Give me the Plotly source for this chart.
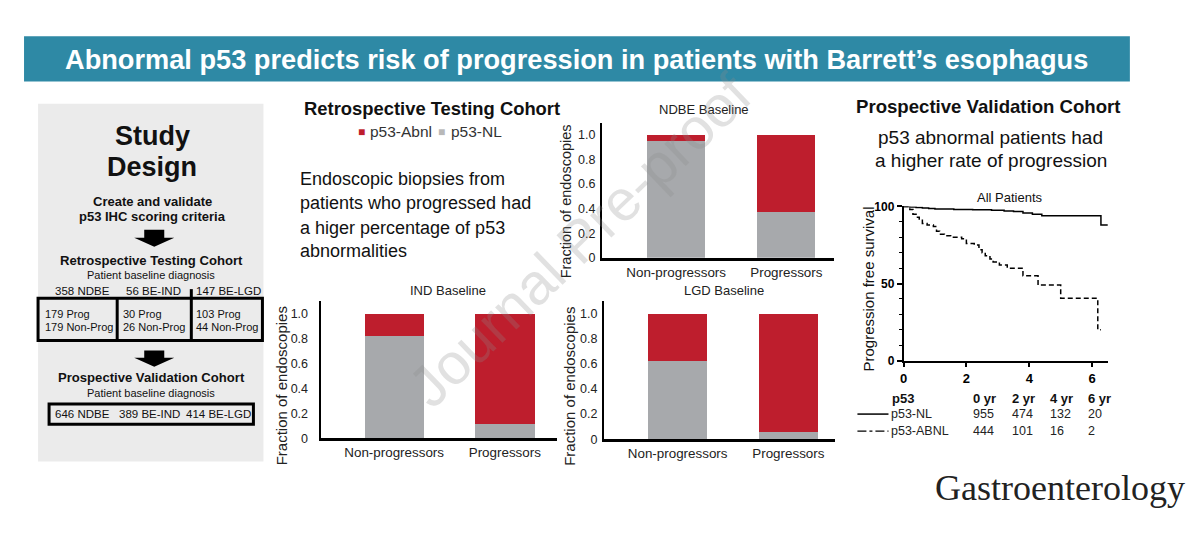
import plotly.graph_objects as go

W, H = 1200, 551
ARIAL = "Arial, Liberation Sans, sans-serif"
RED = "#be1e2d"
GRAY = "#a7a9ac"
TEAL = "#2e89a5"
# the page capture comes out slightly shrunk around its centre; undo that
SX, SY = 0.995, 0.967

# stacked bar data (fraction of endoscopies)
categories = ["Non-progressors", "Progressors"]
ndbe_nl = [0.957, 0.377]
ndbe_abnl = [0.043, 0.623]
ind_nl = [0.823, 0.115]
ind_abnl = [0.177, 0.885]
lgd_nl = [0.62, 0.06]
lgd_abnl = [0.38, 0.94]
frac_ticks = [0, 0.2, 0.4, 0.6, 0.8, 1.0]
frac_labels = ["0", "0.2", "0.4", "0.6", "0.8", "1.0"]

# Kaplan-Meier curves
nl_years = [0, 0.2, 0.4, 0.6, 0.8, 1.0, 1.6, 2.2, 2.8, 3.2, 3.5, 3.8, 4.1, 4.4, 6.28, 6.5]
nl_surv = [100, 99.7, 99.4, 99.0, 98.6, 98.3, 98.1, 97.8, 97.5, 97.1, 96.7, 95.8, 95.0, 94.0, 88.0, 88.0]
abnl_years = [0, 0.2, 0.3, 0.4, 0.5, 0.6, 0.75, 0.95, 1.05, 1.15, 1.3, 1.5, 1.85, 2.0, 2.25,
              2.4, 2.5, 2.6, 2.75, 2.85, 3.05, 3.3, 3.8, 4.28, 5.0, 6.18, 6.28]
abnl_surv = [100, 98, 95, 93, 91, 89, 88, 87, 84, 82, 81, 80, 79, 76, 75,
             72, 70, 68, 66, 64, 62, 60, 55, 49, 40.5, 20, 20]
km_xticks = [0, 2, 4, 6]
km_yticks = [0, 50, 100]
risk_headers = ["0 yr", "2 yr", "4 yr", "6 yr"]
risk_nl = [955, 474, 132, 20]
risk_abnl = [444, 101, 16, 2]

# study design counts
retro_groups = ["358 NDBE", "56 BE-IND", "147 BE-LGD"]
retro_prog = ["179 Prog", "30 Prog", "103 Prog"]
retro_nonprog = ["179 Non-Prog", "26 Non-Prog", "44 Non-Prog"]
prosp_groups = ["646 NDBE", "389 BE-IND", "414 BE-LGD"]


def px(x):
    return (600 + (x - 600) / SX) / W


def py(y):
    return 1 - (275.5 + (y - 275.5) / SY) / H


fig = go.Figure()


def text(x, y, s, size, color="#111", xanchor="center", family=ARIAL, angle=0):
    fig.add_annotation(
        x=px(x), y=py(y), xref="paper", yref="paper", text=s, showarrow=False,
        font=dict(size=size, color=color, family=family),
        xanchor=xanchor, yanchor="middle", textangle=angle,
    )


def rect(x0, y0, x1, y1, fill=None, line_w=0, layer="below"):
    fig.add_shape(
        type="rect", xref="paper", yref="paper",
        x0=px(x0), x1=px(x1), y0=py(y0), y1=py(y1),
        fillcolor=fill or "rgba(0,0,0,0)",
        line=dict(color="black", width=line_w), layer=layer,
    )


def seg(x0, y0, x1, y1, width=2, dash="solid"):
    fig.add_shape(
        type="line", xref="paper", yref="paper",
        x0=px(x0), x1=px(x1), y0=py(y0), y1=py(y1),
        line=dict(color="black", width=width, dash=dash),
    )


def down_arrow(cx, top, mid, tip):
    pts = [(cx - 10, top), (cx + 10, top), (cx + 10, mid), (cx + 20, mid),
           (cx, tip), (cx - 20, mid), (cx - 10, mid)]
    path = "M " + " L ".join(f"{px(a):.5f},{py(b):.5f}" for a, b in pts) + " Z"
    fig.add_shape(type="path", xref="paper", yref="paper", path=path,
                  fillcolor="black", line=dict(width=0))


# ---- stacked bars ----
panels = [
    ("x", "y", ndbe_nl, ndbe_abnl, 0.527),
    ("x2", "y2", ind_nl, ind_abnl, 0.54),
    ("x3", "y3", lgd_nl, lgd_abnl, 0.534),
]
for xa, ya, nl, abnl, w in panels:
    fig.add_trace(go.Bar(x=categories, y=nl, xaxis=xa, yaxis=ya, width=w,
                         marker=dict(color=GRAY, line=dict(width=0)),
                         name="p53-NL", showlegend=False))
    fig.add_trace(go.Bar(x=categories, y=abnl, xaxis=xa, yaxis=ya, width=w,
                         marker=dict(color=RED, line=dict(width=0)),
                         name="p53-Abnl", showlegend=False))

# ---- Kaplan-Meier ----
fig.add_trace(go.Scatter(x=nl_years, y=nl_surv, xaxis="x4", yaxis="y4", mode="lines",
                         line=dict(color="black", width=1.5, shape="hv"),
                         cliponaxis=False, showlegend=False))
fig.add_trace(go.Scatter(x=abnl_years, y=abnl_surv, xaxis="x4", yaxis="y4", mode="lines",
                         line=dict(color="black", width=1.5, shape="hv", dash="5px,3px"),
                         cliponaxis=False, showlegend=False))


def bar_x(xdom, xr, anchor):
    return dict(domain=[px(xdom[0]), px(xdom[1])], range=xr, anchor=anchor, showline=True,
                linecolor="black", linewidth=3, ticks="", showgrid=False,
                zeroline=False, tickfont=dict(size=13.4, color="#222", family=ARIAL))


def bar_y(ydom, anchor, standoff):
    return dict(domain=[py(ydom[0]), py(ydom[1])], range=[0, 1.1], anchor=anchor,
                showline=True, linecolor="black", linewidth=2, ticks="", showgrid=False,
                zeroline=False, tickvals=frac_ticks, ticktext=frac_labels,
                ticklabelstandoff=standoff,
                tickfont=dict(size=12.5, color="#222", family=ARIAL))


fig.update_layout(
    width=W, height=H,
    margin=dict(l=0, r=0, t=0, b=0),
    paper_bgcolor="white", plot_bgcolor="rgba(0,0,0,0)",
    barmode="stack", bargap=0,
    xaxis=bar_x((600, 832), [-0.673, 1.436], "y"),
    yaxis=bar_y((258, 123.8), "x", 2),
    xaxis2=bar_x((319, 555), [-0.665, 1.471], "y2"),
    yaxis2=bar_y((437, 300.6), "x2", 8),
    xaxis3=bar_x((602, 833), [-0.665, 1.425], "y3"),
    yaxis3=bar_y((438, 300.5), "x3", 2),
    xaxis4=dict(domain=[px(901), px(1105)], range=[0, 6.5], anchor="y4", showline=True,
                linecolor="black", linewidth=1.5, ticks="outside", ticklen=5,
                tickwidth=1.5, tickcolor="black", showgrid=False, zeroline=False,
                tickvals=km_xticks, ticktext=[f"<b>{t}</b>" for t in km_xticks],
                tickfont=dict(size=13, color="black", family=ARIAL)),
    yaxis4=dict(domain=[py(360), py(207)], range=[0, 100], anchor="x4", showline=True,
                linecolor="black", linewidth=1.5, ticks="outside", ticklen=5,
                tickwidth=1.5, tickcolor="black", showgrid=False, zeroline=False,
                tickvals=km_yticks, ticktext=[f"<b>{t}</b>" for t in km_yticks],
                tickfont=dict(size=12, color="black", family=ARIAL),
                minor=dict(dtick=10, ticks="outside", ticklen=3, tickcolor="black",
                           tickwidth=1, showgrid=False)),
)

# axis titles
text(564, 202, "Fraction of endoscopies", 14.5, color="#222", angle=-90)
text(280, 385, "Fraction of endoscopies", 15, color="#222", angle=-90)
text(568, 385, "Fraction of endoscopies", 15, color="#222", angle=-90)
text(866, 289, "Progression free survival", 15, angle=-90)

# ---- banner ----
rect(23, 38, 1127, 83, fill=TEAL)
text(575, 61, "<b>Abnormal p53 predicts risk of progression in patients with Barrett\u2019s esophagus</b>",
     27.2, color="white")

# ---- study design panel ----
rect(37, 105, 262, 460, fill="#ebebeb")
text(151, 137, "<b>Study</b>", 27)
text(151, 168, "<b>Design</b>", 27)
text(151, 202, "<b>Create and validate</b>", 13)
text(151, 217, "<b>p53 IHC scoring criteria</b>", 13)
down_arrow(153, 230, 238, 247)
text(150, 261, "<b>Retrospective Testing Cohort</b>", 13.1)
text(150, 275, "Patient baseline diagnosis", 11)
for cx, s in zip([81, 152, 227], retro_groups):
    text(cx, 291, s, 11.5)
rect(37, 298, 261, 340, line_w=3, layer="above")
seg(116, 298, 116, 340, width=3)
seg(190, 289, 190, 340, width=3)
for lx, p, n in zip([42, 120, 193], retro_prog, retro_nonprog):
    text(lx, 314, p, 11, xanchor="left")
    text(lx, 327, n, 11, xanchor="left")
down_arrow(153, 350, 357, 366)
text(150, 377, "<b>Prospective Validation Cohort</b>", 13.1)
text(150, 392, "Patient baseline diagnosis", 11)
rect(48, 403, 252, 423, line_w=3, layer="above")
for cx, s in zip([81, 148, 217], prosp_groups):
    text(cx, 413, s, 11.5)

# ---- retrospective panel texts ----
text(430, 110, "<b>Retrospective Testing Cohort</b>", 18.4)
text(360, 133, "\u25a0", 12, color=RED)
text(366, 133, "p53-Abnl", 15.5, color="#333", xanchor="left")
text(440, 133, "\u25a0", 12, color="#b8b8b8")
text(447, 133, "p53-NL", 15.5, color="#333", xanchor="left")
for yy, s in zip([180, 204, 228, 251], ["Endoscopic biopsies from", "patients who progressed had",
                                        "a higer percentage of p53", "abnormalities"]):
    text(297, yy, s, 18, xanchor="left")
text(702, 111, "NDBE Baseline", 13, color="#222")
text(446, 290, "IND Baseline", 13, color="#222")
text(722, 290, "LGD Baseline", 13, color="#222")

# ---- prospective panel texts ----
text(986, 108, "<b>Prospective Validation Cohort</b>", 18.6)
text(988, 139, "p53 abnormal patients had", 19)
text(988, 161, "a higher rate of progression", 19)
text(1007, 198, "All Patients", 13)
text(888, 398, "<b>p53</b>", 13, xanchor="left")
cols = [968, 1007, 1045, 1083]
for cx, hdr, a, b in zip(cols, risk_headers, risk_nl, risk_abnl):
    text(cx, 398, f"<b>{hdr}</b>", 13, xanchor="left")
    text(cx, 413, str(a), 12.5, color="#222", xanchor="left")
    text(cx, 430, str(b), 12.5, color="#222", xanchor="left")
seg(855, 413, 886, 413, width=1.5)
seg(855, 430, 886, 430, width=1.2, dash="dashdot")
text(887, 413, "p53-NL", 12.5, color="#222", xanchor="left")
text(887, 430, "p53-ABNL", 12.5, color="#222", xanchor="left")

# ---- journal logo and watermark ----
text(1057, 486, "Gastroenterology", 36, color="#222",
     family="Liberation Serif, Times New Roman, serif")
text(578, 240, "Journal Pre-proof", 58, color="rgba(140,140,140,0.26)", angle=-44)

fig.write_html(
    "out.html",
    config={"displayModeBar": False},
    post_script="document.body.style.margin='0px';"
                "document.documentElement.style.overflow='hidden';",
)
